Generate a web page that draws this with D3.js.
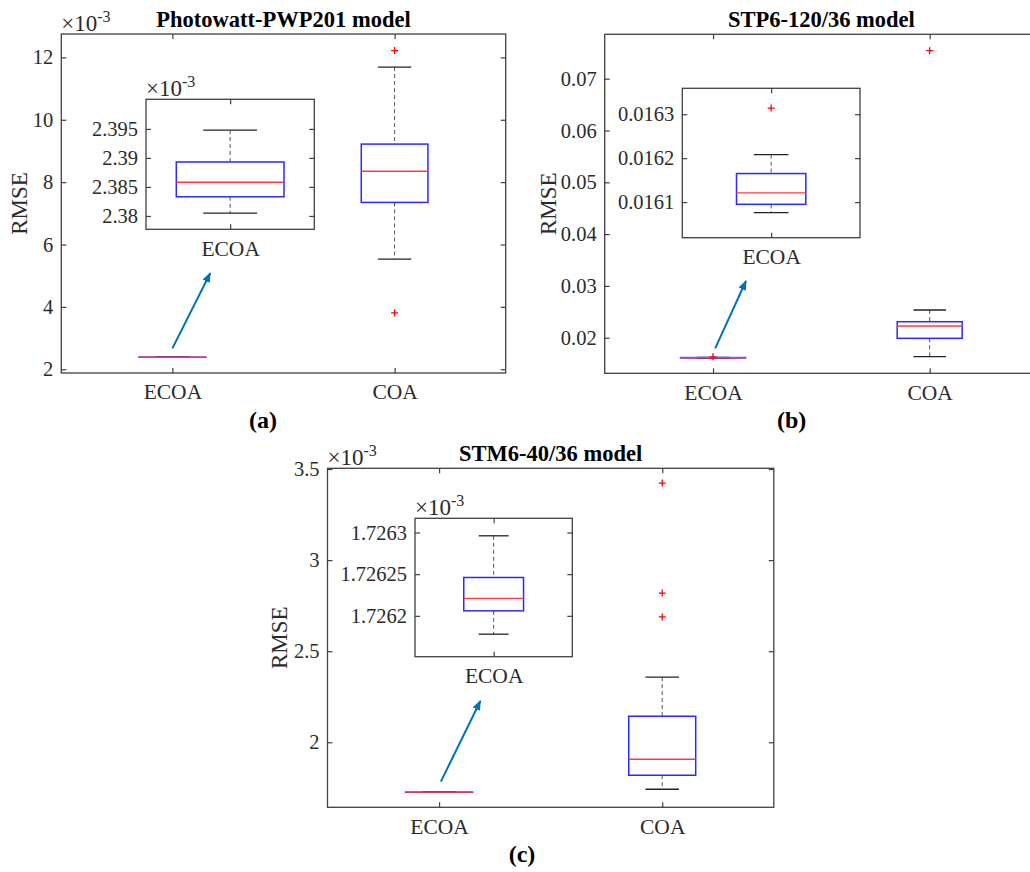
<!DOCTYPE html>
<html>
<head>
<meta charset="utf-8">
<script src="https://cdn.jsdelivr.net/npm/d3@7"></script>
<style>
  body { margin: 0; background: #fff; }
  svg { display: block; font-family: "Liberation Serif", "Times New Roman", serif; }
</style>
</head>
<body>
<svg width="1030" height="872"></svg>
<script>
const svg = d3.select("svg");

// categories
const groups = ["ECOA", "COA"];
const titles = ["Photowatt-PWP201 model", "STP6-120/36 model", "STM6-40/36 model"];
const panelLetters = ["(a)", "(b)", "(c)"];

// box stats: [lower whisker, Q1, median, Q3, upper whisker]
// (a) values in units of 1e-3
const ecoaStatsA = [2.3805, 2.3833, 2.3858, 2.3893, 2.3948];
const ecoaOutA = [];
const coaStatsA = [5.53, 7.35, 8.35, 9.22, 11.69];
const coaOutA = [12.22, 3.81];
// (b)
const ecoaStatsB = [0.016076, 0.016095, 0.016121, 0.016165, 0.016208];
const ecoaOutB = [0.016314];
const coaStatsB = [0.01633, 0.01988, 0.02226, 0.02309, 0.02535];
const coaOutB = [0.07541];
// (c) values in units of 1e-3
const ecoaStatsC = [1.726178, 1.726206, 1.726221, 1.726246, 1.726296];
const ecoaOutC = [];
const coaStatsC = [1.742, 1.819, 1.907, 2.143, 2.358];
const coaOutC = [3.423, 2.819, 2.688];

// tick values
const ticksA = [2, 4, 6, 8, 10, 12];
const insetTicksA = [2.38, 2.385, 2.39, 2.395];
const ticksB = [0.02, 0.03, 0.04, 0.05, 0.06, 0.07];
const insetTicksB = [0.0161, 0.0162, 0.0163];
const ticksC = [2, 2.5, 3, 3.5];
const insetTicksC = [1.7262, 1.72625, 1.7263];

const panels = [
  {
    title: titles[0], letter: panelLetters[0], letterPos: [263, 428], rmseX: 27,
    stats: [ecoaStatsA, coaStatsA], outliers: [ecoaOutA, coaOutA], ticks: ticksA, exponent: true,
    frame: { x: 61.3, y: 34, w: 444.4, h: 339 }, yDomain: [1.88, 12.75],
    inset: { x: 146, y: 99.3, w: 168.3, h: 130, stats: ecoaStatsA, outliers: ecoaOutA,
             ticks: insetTicksA, domain: [2.3777, 2.4001], boxFrac: 0.64, exponent: true },
    arrow: [[1.0, 2.67], [1.17, 5.08]]
  },
  {
    title: titles[1], letter: panelLetters[1], letterPos: [791.7, 428], rmseX: 556,
    stats: [ecoaStatsB, coaStatsB], outliers: [ecoaOutB, coaOutB], ticks: ticksB, exponent: false,
    frame: { x: 604.7, y: 34.3, w: 433.3, h: 339 }, yDomain: [0.01313, 0.07857],
    inset: { x: 682.3, y: 88.3, w: 177.7, h: 149.4, stats: ecoaStatsB, outliers: ecoaOutB,
             ticks: insetTicksB, domain: [0.016019, 0.016359], boxFrac: 0.39, exponent: false },
    arrow: [[1.01, 0.01795], [1.152, 0.03095]]
  },
  {
    title: titles[2], letter: panelLetters[2], letterPos: [522, 862], rmseX: 286.5,
    stats: [ecoaStatsC, coaStatsC], outliers: [ecoaOutC, coaOutC], ticks: ticksC, exponent: true,
    frame: { x: 327.5, y: 468.3, w: 446.3, h: 339 }, yDomain: [1.643, 3.504],
    inset: { x: 415, y: 518.3, w: 157.3, h: 138.4, stats: ecoaStatsC, outliers: ecoaOutC,
             ticks: insetTicksC, domain: [1.726151, 1.726317], boxFrac: 0.38, exponent: true },
    arrow: [[1.008, 1.784], [1.185, 2.2267]]
  }
];

const axisColor = "#404040";
const textColor = "#2b2b2b";

svg.append("defs").append("marker")
  .attr("id", "arrowHead")
  .attr("markerUnits", "userSpaceOnUse")
  .attr("markerWidth", 10).attr("markerHeight", 8)
  .attr("refX", 9).attr("refY", 4)
  .attr("orient", "auto")
  .append("path")
  .attr("d", "M0,0 L10,4 L0,8 Z")
  .attr("fill", "#0072BD");

// draws axes frame with inward ticks on all four sides
function drawAxes(g, w, h, x, y, xTicks, yTicks, xLabels) {
  g.append("rect").attr("width", w).attr("height", h)
    .attr("fill", "#fff").attr("stroke", axisColor).attr("stroke-width", 1.3);

  const left = g.append("g").call(d3.axisLeft(y).tickValues(yTicks)
    .tickSize(-5).tickPadding(8).tickFormat(d => String(d)));
  const right = g.append("g").attr("transform", `translate(${w},0)`)
    .call(d3.axisRight(y).tickValues(yTicks).tickSize(-5).tickFormat(""));
  const bottom = g.append("g").attr("transform", `translate(0,${h})`)
    .call(d3.axisBottom(x).tickValues(xTicks).tickSize(-5).tickPadding(11)
      .tickFormat((d, i) => xLabels[i]));
  const top = g.append("g")
    .call(d3.axisTop(x).tickValues(xTicks).tickSize(-5).tickFormat(""));

  [left, right, bottom, top].forEach(a => {
    a.select(".domain").remove();
    a.selectAll("line").attr("stroke", axisColor).attr("stroke-width", 1.2);
    a.selectAll("text").attr("fill", textColor).style("font-size", "20.5px")
      .style("font-family", "Liberation Serif");
  });
  bottom.selectAll("text").attr("dy", "0.71em").style("font-size", "21.5px");
}

function drawBox(g, cx, halfW, y, s, outs) {
  const capHalf = halfW / 2;
  // whiskers
  g.append("line").attr("x1", cx).attr("x2", cx)
    .attr("y1", y(s[4])).attr("y2", y(s[3]))
    .attr("stroke", "#555").attr("stroke-width", 1).attr("stroke-dasharray", "4,3");
  g.append("line").attr("x1", cx).attr("x2", cx)
    .attr("y1", y(s[1])).attr("y2", y(s[0]))
    .attr("stroke", "#555").attr("stroke-width", 1).attr("stroke-dasharray", "4,3");
  [s[0], s[4]].forEach(v => {
    g.append("line").attr("x1", cx - capHalf).attr("x2", cx + capHalf)
      .attr("y1", y(v)).attr("y2", y(v))
      .attr("stroke", "#222").attr("stroke-width", 1.3);
  });
  g.append("rect")
    .attr("x", cx - halfW).attr("width", 2 * halfW)
    .attr("y", y(s[3])).attr("height", Math.max(0, y(s[1]) - y(s[3])))
    .attr("fill", "none").attr("stroke", "#2a2aff").attr("stroke-width", 1.5);
  g.append("line").attr("x1", cx - halfW).attr("x2", cx + halfW)
    .attr("y1", y(s[2])).attr("y2", y(s[2]))
    .attr("stroke", "#ff3a44").attr("stroke-width", 1.4);
  outs.forEach(v => {
    const py = y(v);
    g.append("path")
      .attr("d", `M${cx - 3.5},${py} H${cx + 3.5} M${cx},${py - 3.5} V${py + 3.5}`)
      .attr("stroke", "#ff0000").attr("stroke-width", 1.3).attr("fill", "none");
  });
}

function drawExponent(g) {
  const t = g.append("text").attr("x", 0).attr("y", -3.5)
    .attr("fill", textColor).style("font-size", "23px");
  t.append("tspan").text("\u00d710");
  t.append("tspan").attr("dy", -9).style("font-size", "16px").text("-3");
}

panels.forEach(p => {
  const f = p.frame;
  const g = svg.append("g").attr("transform", `translate(${f.x},${f.y})`);
  const x = d3.scaleLinear().domain([0.5, 2.5]).range([0, f.w]);
  const y = d3.scaleLinear().domain(p.yDomain).range([f.h, 0]);
  const positions = groups.map((d, i) => i + 1);

  drawAxes(g, f.w, f.h, x, y, positions, p.ticks, groups);

  const halfW = (x(1.15) - x(1));
  groups.forEach((name, i) => {
    drawBox(g, x(positions[i]), halfW, y, p.stats[i], p.outliers[i]);
  });

  if (p.exponent) drawExponent(g);

  g.append("text")
    .attr("x", f.w / 2).attr("y", -7.5)
    .attr("text-anchor", "middle")
    .style("font-size", "22.5px").style("font-weight", "bold")
    .attr("fill", "#000")
    .text(p.title);

  svg.append("text")
    .attr("transform", `translate(${p.rmseX},${f.y + f.h / 2}) rotate(-90)`)
    .attr("text-anchor", "middle")
    .style("font-size", "23px").attr("fill", textColor)
    .text("RMSE");

  svg.append("text")
    .attr("x", p.letterPos[0]).attr("y", p.letterPos[1])
    .attr("text-anchor", "middle")
    .style("font-size", "24px").style("font-weight", "bold")
    .attr("fill", "#000")
    .text(p.letter);

  // inset
  const ins = p.inset;
  const gi = svg.append("g").attr("transform", `translate(${ins.x},${ins.y})`);
  const xi = d3.scaleLinear().domain([0.5, 1.5]).range([0, ins.w]);
  const yi = d3.scaleLinear().domain(ins.domain).range([ins.h, 0]);
  drawAxes(gi, ins.w, ins.h, xi, yi, [1], ins.ticks, [groups[0]]);
  drawBox(gi, xi(1), (xi(1 + ins.boxFrac / 2) - xi(1)), yi, ins.stats, ins.outliers);
  if (ins.exponent) drawExponent(gi);

  // arrow pointing from the collapsed ECOA box to the inset
  g.append("line")
    .attr("x1", x(p.arrow[0][0])).attr("y1", y(p.arrow[0][1]))
    .attr("x2", x(p.arrow[1][0])).attr("y2", y(p.arrow[1][1]))
    .attr("stroke", "#0072BD").attr("stroke-width", 2)
    .attr("marker-end", "url(#arrowHead)");
});
</script>
</body>
</html>
